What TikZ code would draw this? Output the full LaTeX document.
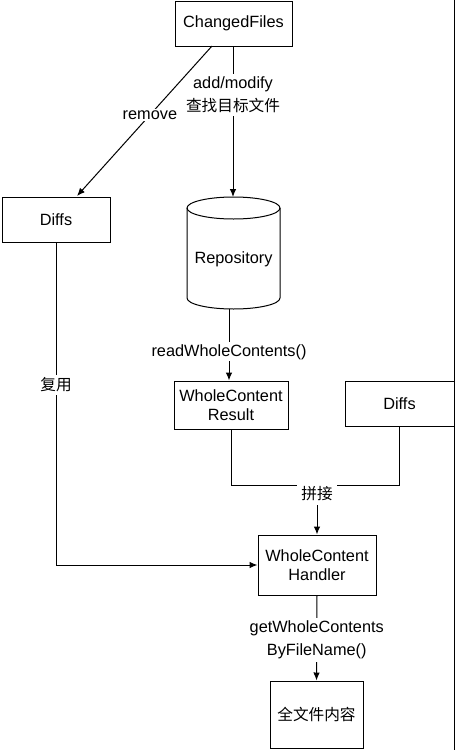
\documentclass[tikz,border=0pt]{standalone}
\usepackage{fontspec}
\setmainfont{Liberation Sans}
\newfontfamily\cjk[Scale=0.96]{Noto Sans CJK SC}
\usetikzlibrary{arrows.meta}
\tikzset{
  box/.style={draw, line width=1pt, align=center, font=\fontsize{16.3}{19.5}\selectfont, inner sep=0pt},
  conn/.style={line width=1pt},
  arr/.style={conn, -{Latex[length=8pt,width=6.5pt]}},
  lbl/.style={fill=white, align=center, font=\fontsize{16.3}{23}\selectfont, inner sep=3pt},
}
\begin{document}
\begin{tikzpicture}[x=1pt,y=-1pt]
\useasboundingbox (0,0) rectangle (456,750);
\fill[white] (0,0) rectangle (456,750);
% boxes
\node[box, minimum width=117pt, minimum height=45pt] (cf) at (233.5,23.5) {ChangedFiles};
\node[box, minimum width=108pt, minimum height=45pt] (dl) at (56,219.5) {Diffs};
\node[box, minimum width=114pt, minimum height=48pt] (wcr) at (231,405) {WholeContent\\Result};
\node[box, minimum width=109pt, minimum height=45pt] (dr) at (399.5,403.5) {Diffs};
\node[box, minimum width=118pt, minimum height=60pt] (wch) at (317,565) {WholeContent\\Handler};
\node[box, minimum width=93pt, minimum height=67pt] (full) at (316.5,714.5) {\cjk 全文件内容};
% repository cylinder
\draw[conn] (187,208) -- (187,298) arc[start angle=180, end angle=360, x radius=46.5pt, y radius=11pt] -- (280,208);
\draw[conn] (233.5,208) ellipse[x radius=46.5pt, y radius=11pt];
\node[font=\fontsize{16.3}{19.5}\selectfont] (repo) at (233.5,259) {Repository};
\coordinate (repotop) at (233,197);
\coordinate (repobot) at (229,309);
% right border line
\coordinate (rt) at (454,0);
\coordinate (rb) at (454,750);
\draw[conn] (rt) -- (rb);
% connectors
\draw[arr] (cf.south -| repotop) -- node[lbl, pos=0.32] (l1) {add/modify\\{\cjk 查找目标文件}} (repotop);
\draw[arr] (212,46) -- node[lbl, pos=0.46, inner sep=2pt] (l2) {remove} (77,196);
\draw[arr] (repobot) -- node[lbl, pos=0.6, inner sep=2pt] (l3) {readWholeContents()} (repobot |- wcr.north);
\draw[arr] (dl.south) |- node[lbl, pos=0.221] (l4) {\cjk 复用} (wch.west);
\coordinate (join) at (317,485);
\draw[conn] (wcr.south) |- (join);
\draw[conn] (dr.south) |- (join);
\draw[arr] (join) -- (wch.north);
\node[lbl, inner sep=4pt] (l5) at (317,494) {\cjk 拼接};
\draw[arr] (wch.south) -- node[lbl, pos=0.52] (l6) {getWholeContents\\ByFileName()} (full.north);
\end{tikzpicture}
\end{document}
